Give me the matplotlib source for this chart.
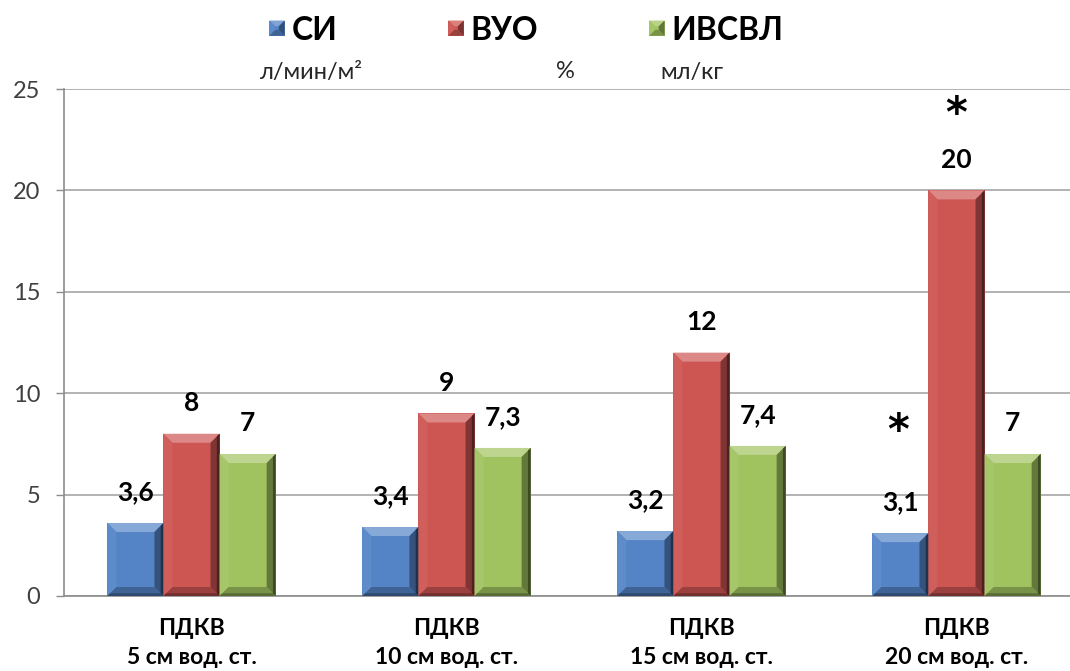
import matplotlib
matplotlib.use("Agg")
import matplotlib.pyplot as plt
import numpy as np
from matplotlib.patches import Polygon
from matplotlib.container import BarContainer
from matplotlib.legend_handler import HandlerBase
from matplotlib.colors import to_rgb

# ---- data ----
categories = ["ПДКВ\n5 см вод. ст.", "ПДКВ\n10 см вод. ст.",
              "ПДКВ\n15 см вод. ст.", "ПДКВ\n20 см вод. ст."]
series_names = ["СИ", "ВУО", "ИВСВЛ"]
series_units = ["л/мин/м²", "%", "мл/кг"]
si_values = [3.6, 3.4, 3.2, 3.1]
vuo_values = [8, 9, 12, 20]
ivsvl_values = [7, 7.3, 7.4, 7]
y_ticks = [0, 5, 10, 15, 20, 25]

colors = ["#5484C6", "#CD5552", "#A0C35F"]
FONT = ["Lato", "DejaVu Sans"]
plt.rcParams["font.family"] = FONT

W, H, DPI = 1070, 671, 100
fig = plt.figure(figsize=(W / DPI, H / DPI), dpi=DPI)
ax_left, ax_bottom = 64 / W, 75 / H
ax_w, ax_h = 1020 / W, 507 / H
ax = fig.add_axes([ax_left, ax_bottom, ax_w, ax_h])

x = np.arange(len(categories))
bar_w = 0.22
values = [si_values, vuo_values, ivsvl_values]
offsets = [-bar_w, 0, bar_w]

ax.set_xlim(-0.5, len(categories) - 0.5)
ax.set_ylim(0, 25)

px_x = ax_w * W / (len(categories))      # pixels per x unit
px_y = ax_h * H / 25.0                    # pixels per y unit


def shade(c, f):
    r = np.array(to_rgb(c)[:3])
    if f >= 0:
        return tuple(r + (1 - r) * f)
    return tuple(r * (1 + f))


def bevel_polys(x0, y0, x1, y1, bx, by):
    by = min(by, (y1 - y0) / 2)
    bx = min(bx, (x1 - x0) / 2)
    top = [(x0, y1), (x1, y1), (x1 - bx, y1 - by), (x0 + bx, y1 - by)]
    bottom = [(x0, y0), (x1, y0), (x1 - bx, y0 + by), (x0 + bx, y0 + by)]
    left = [(x0, y0), (x0 + bx, y0 + by), (x0 + bx, y1 - by), (x0, y1)]
    right = [(x1, y0), (x1 - bx, y0 + by), (x1 - bx, y1 - by), (x1, y1)]
    return top, bottom, left, right


def add_bevel(x0, y0, x1, y1, bx, by, color, z=3):
    top, bottom, left, right = bevel_polys(x0, y0, x1, y1, bx, by)
    kw = dict(linewidth=0, zorder=z)
    parts = [(top, 0.30), (left, 0.06), (right, -0.38), (bottom, -0.25)]
    for poly, f in parts:
        ax.add_patch(Polygon(poly, closed=True, facecolor=shade(color, f), **kw))
    # darker outer rim on the right and bottom edges
    e = 0.3
    rim = [(x1, y0), (x1 - bx * e, y0 + by * e), (x1 - bx * e, y1 - by * e), (x1, y1)]
    ax.add_patch(Polygon(rim, closed=True, facecolor=shade(color, -0.62), **kw))
    rimb = [(x0, y0), (x1, y0), (x1 - bx * e, y0 + by * e), (x0 + bx * e, y0 + by * e)]
    ax.add_patch(Polygon(rimb, closed=True, facecolor=shade(color, -0.45), **kw))


containers = []
bev_px = 9
for vals, off, col in zip(values, offsets, colors):
    bc = ax.bar(x + off, vals, width=bar_w, color=col, linewidth=0, zorder=2)
    containers.append(bc)
    for rect in bc.patches:
        x0, y0 = rect.get_x(), rect.get_y()
        x1, y1 = x0 + rect.get_width(), y0 + rect.get_height()
        add_bevel(x0, y0, x1, y1, bev_px / px_x, bev_px / px_y, col)
    for rect, v in zip(bc.patches, vals):
        ax.annotate(f"{v:g}".replace(".", ","),
                    (rect.get_x() + rect.get_width() / 2, rect.get_height()),
                    xytext=(0, 22), textcoords="offset points",
                    ha="center", va="center", fontsize=19, fontweight="bold",
                    color="black", zorder=5)

# significance marks
ax.text(x[3] + offsets[1], 23.7, "*", ha="center", va="center",
        fontsize=30, fontweight="bold", family=["DejaVu Sans"], zorder=5)
ax.text(x[3] + offsets[0] - 0.01, 8.1, "*", ha="center", va="center",
        fontsize=30, fontweight="bold", family=["DejaVu Sans"], zorder=5)

# axes styling
for s in ["top", "right"]:
    ax.spines[s].set_visible(False)
for s in ["left", "bottom"]:
    ax.spines[s].set_color("#8C8C8C")
    ax.spines[s].set_linewidth(1.2)
ax.set_yticks(y_ticks)
ax.set_yticklabels([str(t) for t in y_ticks])
ax.tick_params(axis="y", length=6, width=1, color="#8C8C8C", pad=11,
               labelsize=17, labelcolor="#404040")
ax.set_xticks(x)
ax.set_xticklabels(categories, fontsize=16.5, fontweight="bold",
                   linespacing=1.45)
ax.tick_params(axis="x", length=0, pad=16)
ax.yaxis.grid(True, color="#A6A6A6", linewidth=1.2)
ax.set_axisbelow(True)


class HandlerBevel(HandlerBase):
    def create_artists(self, legend, orig_handle, xdescent, ydescent,
                       width, height, fontsize, trans):
        col = orig_handle.patches[0].get_facecolor()
        s = 11
        cx = -xdescent + width / 2
        cy = -ydescent + height / 2
        x0, x1, y0, y1 = cx - s / 2, cx + s / 2, cy - s / 2, cy + s / 2
        base = Polygon([(x0, y0), (x1, y0), (x1, y1), (x0, y1)], closed=True,
                       facecolor=col, linewidth=0, transform=trans)
        top, bottom, left, right = bevel_polys(x0, y0, x1, y1, 4.2, 4.2)
        arts = [base]
        for poly, f in [(top, 0.25), (left, 0.05), (right, -0.4), (bottom, -0.25)]:
            arts.append(Polygon(poly, closed=True, facecolor=shade(col, f),
                                linewidth=0, transform=trans))
        return arts


leg = fig.legend(containers, series_names, loc="center left",
                 bbox_to_anchor=(269 / W, 1 - 30 / H), ncol=3, frameon=False,
                 handler_map={BarContainer: HandlerBevel()},
                 prop=dict(family=FONT, weight="bold", size=23),
                 handlelength=0.5, handleheight=0.5, handletextpad=0.2,
                 columnspacing=3.47, borderpad=0, borderaxespad=0)

unit_x = [312, 565, 692]
for ux, u in zip(unit_x, series_units):
    fig.text(ux / W, 1 - 72 / H, u, ha="center", va="center", fontsize=17,
             color="#262626")

fig.savefig("out.png", dpi=DPI)
